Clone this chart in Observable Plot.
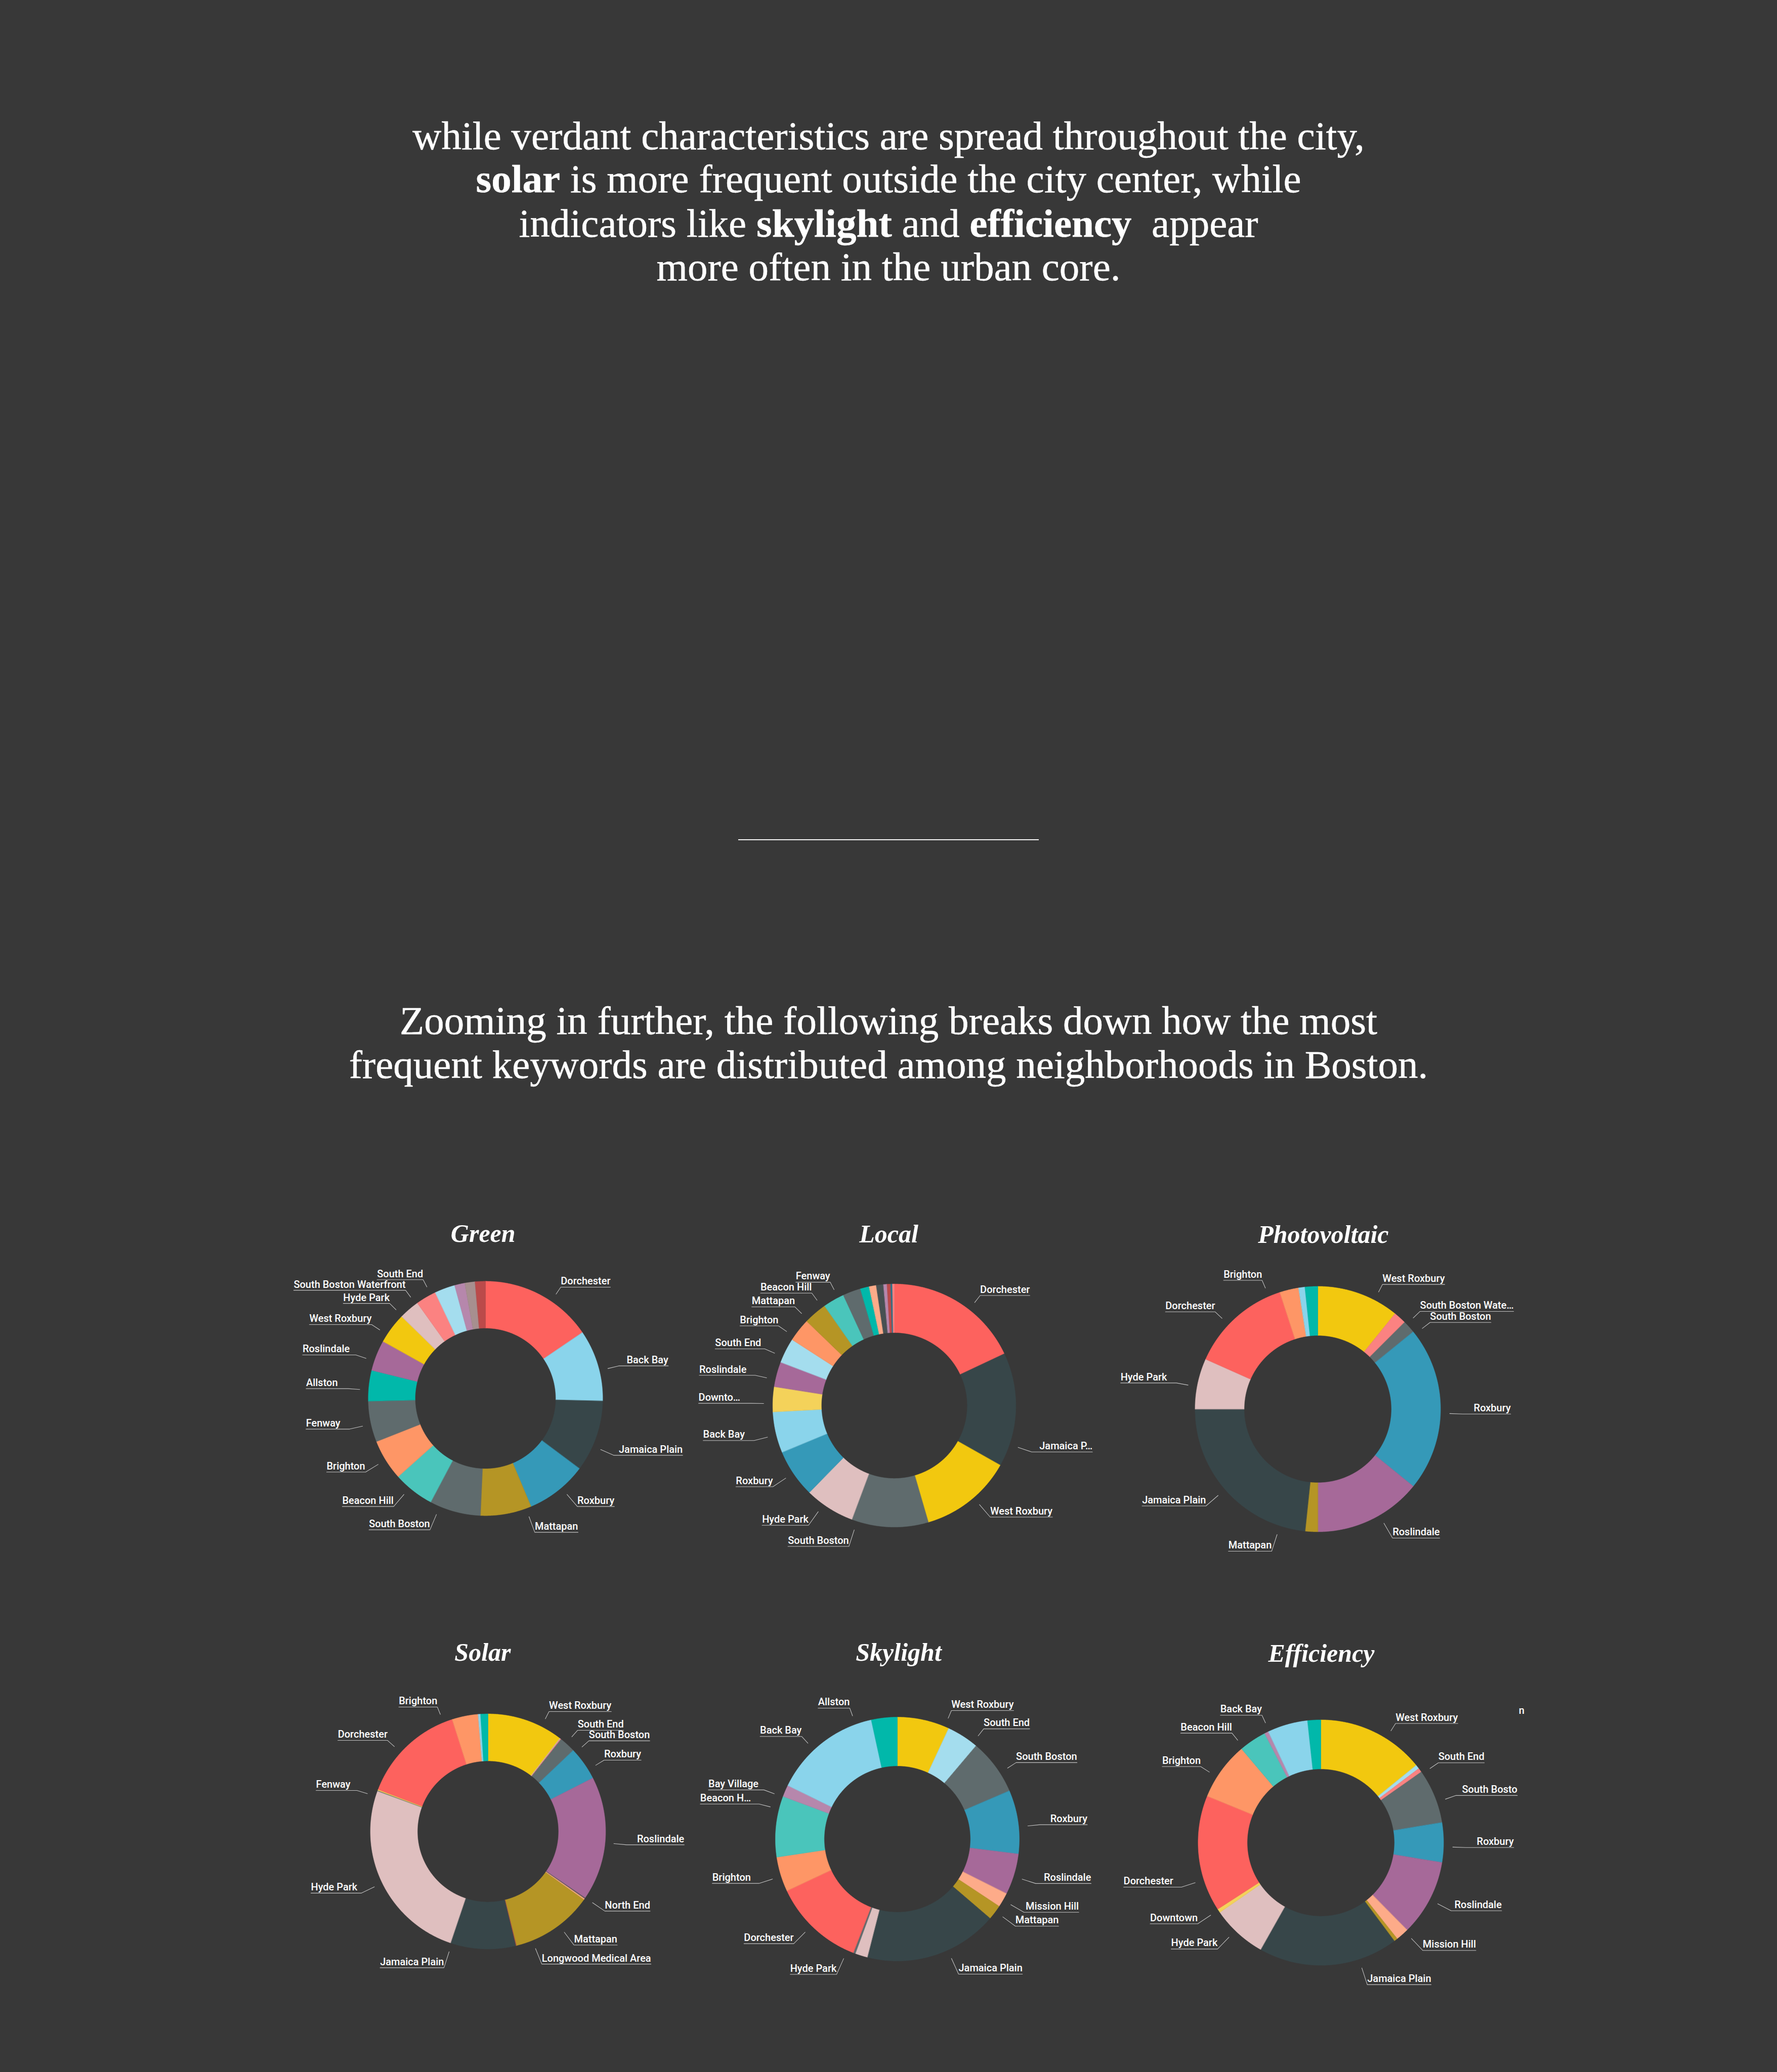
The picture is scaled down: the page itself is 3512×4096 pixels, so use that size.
<!DOCTYPE html>
<html>
<head>
<meta charset="utf-8">
<script src="https://cdn.jsdelivr.net/npm/d3@7"></script>
<script src="https://cdn.jsdelivr.net/npm/@observablehq/plot@0.6"></script>
<style>
html, body { margin:0; padding:0; background:#383838; }
#page { position:relative; width:3512px; height:4096px; overflow:hidden; background:#383838; }
.para { position:absolute; left:0; width:3512px; text-align:center; color:#fff; font-family:"Liberation Serif", serif; font-size:79px; line-height:79px; white-space:pre; -webkit-text-stroke:0.5px #fff; }
.para b { font-weight:700; }
.rule { position:absolute; background:#f2f2f2; }
.ctitle { position:absolute; width:600px; text-align:center; color:#fff; font-family:"Liberation Serif", serif; font-style:italic; font-weight:700; font-size:50px; line-height:50px; white-space:nowrap; }
</style>
</head>
<body>
<div id="page"></div>
<script>
// ---------------- DATA ----------------
// neighborhood colour assignment (consistent across all charts)
const hoods = ["Allston","Jamaica Plain","Dorchester","West Roxbury","South Boston","Back Bay","Brighton","Roslindale","Roxbury","Hyde Park","Beacon Hill","Fenway","South Boston Waterfront","Downtown","South End","Mission Hill","Bay Village","East Boston","Charlestown","Longwood Medical Area","Mattapan","North End"];
const hoodColors = ["#01B8AA","#374649","#FD625E","#F2C80F","#5F6B6D","#8AD4EB","#FE9666","#A66999","#3599B8","#DFBFBF","#4AC5BB","#5F6B6D","#FB8281","#F4D25A","#A4DDEE","#FDAB89","#B687AC","#28738A","#A78F8F","#BB4A4A","#B59525","#475052"];

// Green
const greenNames  = ["Dorchester","Back Bay","Jamaica Plain","Roxbury","Mattapan","South Boston","Beacon Hill","Brighton","Fenway","Allston","Roslindale","West Roxbury","Hyde Park","South Boston Waterfront","South End","Bay Village","Charlestown","Longwood Medical Area"];
const greenCounts = [11,7,7,6,5,5,4,4,4,3,3,3,2,2,2,1,1,1];
const greenLabels = ["Dorchester","Back Bay","Jamaica Plain","Roxbury","Mattapan","South Boston","Beacon Hill","Brighton","Fenway","Allston","Roslindale","West Roxbury","Hyde Park","South Boston Waterfront","South End","","",""];

// Local
const localNames  = ["Dorchester","Jamaica Plain","West Roxbury","South Boston","Hyde Park","Roxbury","Back Bay","Downtown","Roslindale","South End","Brighton","Mattapan","Beacon Hill","Fenway","Allston","Mission Hill","North End","Bay Village","Longwood Medical Area","East Boston","South Boston Waterfront"];
const localCounts = [76,64,52,43,28,27,23,14,14,14,13,13,12,10,5,4,4,2,2,1,1];
const localLabels = ["Dorchester","Jamaica P…","West Roxbury","South Boston","Hyde Park","Roxbury","Back Bay","Downto…","Roslindale","South End","Brighton","Mattapan","Beacon Hill","Fenway","","","","","","",""];

// Photovoltaic
const pvNames  = ["West Roxbury","South Boston Waterfront","South Boston","Roxbury","Roslindale","Mattapan","Jamaica Plain","Hyde Park","Dorchester","Brighton","Back Bay","Allston"];
const pvCounts = [13,2,2,26,17,2,28,8,16,3,1,2];
const pvLabels = ["West Roxbury","South Boston Wate…","South Boston","Roxbury","Roslindale","Mattapan","Jamaica Plain","Hyde Park","Dorchester","Brighton","",""];

// Solar
const solarNames  = ["West Roxbury","South End","South Boston Waterfront","South Boston","Roxbury","Roslindale","North End","Mission Hill","Mattapan","Longwood Medical Area","Jamaica Plain","Hyde Park","Fenway","Downtown","Dorchester","Brighton","Back Bay","Allston"];
const solarShare  = [37.7,0.2,0.5,8.0,16.6,61.4,0.4,0.6,40.6,0.3,32.2,91.5,0.3,0.5,51.3,12.9,1.2,3.6];
const solarLabels = ["West Roxbury","South End","","South Boston","Roxbury","Roslindale","North End","","Mattapan","Longwood Medical Area","Jamaica Plain","Hyde Park","Fenway","","Dorchester","Brighton","",""];

// Skylight
const skylightNames  = ["West Roxbury","South End","South Boston","Roxbury","Roslindale","Mission Hill","Mattapan","Jamaica Plain","Hyde Park","Fenway","Dorchester","Brighton","Beacon Hill","Bay Village","Back Bay","Allston"];
const skylightShare  = [24.9,15.3,26.5,30.4,19.5,6.9,7.1,63.7,5.9,1.0,43.7,16.6,29.0,5.6,51.6,12.3];
const skylightLabels = ["West Roxbury","South End","South Boston","Roxbury","Roslindale","Mission Hill","Mattapan","Jamaica Plain","Hyde Park","","Dorchester","Brighton","Beacon H…","Bay Village","Back Bay","Allston"];

// Efficiency
const effNames  = ["West Roxbury","South End","South Boston Waterfront","South Boston","Roxbury","Roslindale","Mission Hill","Mattapan","Jamaica Plain","Hyde Park","Downtown","Dorchester","Brighton","Beacon Hill","Bay Village","Back Bay","Allston"];
const effShare  = [51.0,1.9,2.0,25.7,18.8,36.0,6.2,1.7,66.1,26.0,1.8,55.1,27.5,13.0,1.9,19.1,6.2];
const effLabels = ["West Roxbury","South End","","South Bosto","Roxbury","Roslindale","Mission Hill","","Jamaica Plain","Hyde Park","Downtown","Dorchester","Brighton","Beacon Hill","","Back Bay",""];

// Text
const introLines = [
  "while verdant characteristics are spread throughout the city,",
  "<b>solar</b> is more frequent outside the city center, while",
  "indicators like <b>skylight</b> and <b>efficiency</b>  appear",
  "more often in the urban core."
];
const zoomLines = [
  "Zooming in further, the following breaks down how the most",
  "frequent keywords are distributed among neighborhoods in Boston."
];

// ---------------- LAYOUT (reference px, scaled by S) ----------------
const S = 0.78;
const introBaselines = [378, 488, 600, 711];
const zoomBaselines = [2621, 2732];
const rule = {x1: 1871, x2: 2632, y: 2128};
const charts = [
  {title:"Green",        names:greenNames,    values:greenCounts,   labels:greenLabels,    cx:1229, cy:3543, R:297, tx:1224, ty:3147},
  {title:"Local",        names:localNames,    values:localCounts,   labels:localLabels,    cx:2265, cy:3561, R:308, tx:2252, ty:3148},
  {title:"Photovoltaic", names:pvNames,       values:pvCounts,      labels:pvLabels,       cx:3339, cy:3571, R:311, tx:3353, ty:3150},
  {title:"Solar",        names:solarNames,    values:solarShare,    labels:solarLabels,    cx:1236, cy:4641, R:298, tx:1223, ty:4209},
  {title:"Skylight",     names:skylightNames, values:skylightShare, labels:skylightLabels, cx:2273, cy:4660, R:309, tx:2277, ty:4209},
  {title:"Efficiency",   names:effNames,      values:effShare,      labels:effLabels,      cx:3346, cy:4669, R:311, tx:3348, ty:4212, overflow:{label:"South Bosto", text:"n"}}
];

const page = document.getElementById("page");
const PARA_SIZE = 79, BASE = 0.8375; // baseline offset (em) for line-height:1 in Liberation Serif

introLines.concat(zoomLines).forEach((t, i) => {
  const b = (i < 4 ? introBaselines[i] : zoomBaselines[i - 4]) * S;
  const d = document.createElement("div");
  d.className = "para";
  d.innerHTML = t;
  d.style.top = (b - BASE * PARA_SIZE) + "px";
  page.appendChild(d);
});
{
  const r = document.createElement("div");
  r.className = "rule";
  r.style.left = rule.x1 * S + "px";
  r.style.width = (rule.x2 - rule.x1) * S + "px";
  r.style.top = (rule.y * S - 0.8) + "px";
  r.style.height = "1.6px";
  page.appendChild(r);
}

// ---------------- DONUTS ----------------
const LABEL_FONT = "Roboto";
const LABEL_SIZE = 20;
const LABEL_WEIGHT = 500;
const ctx = document.createElement("canvas").getContext("2d");
ctx.font = `${LABEL_WEIGHT} ${LABEL_SIZE}px ${LABEL_FONT}`;
const textWidth = s => ctx.measureText(s).width;

function donut(cfg) {
  const R = cfg.R * S, r0 = 0.6 * R;
  const halfW = 450, halfH = 420;
  const L = 500 * S;            // half-width of the visual frame available to labels
  const arcs = d3.pie().sort(null).value(d => d).startAngle(0).endAngle(2 * Math.PI)(cfg.values);

  // slice polygons
  const pts = [];
  arcs.forEach((a, i) => {
    const n = Math.max(2, Math.ceil((a.endAngle - a.startAngle) / (Math.PI / 720)));
    const name = cfg.names[i];
    for (let k = 0; k <= n; k++) {
      const t = a.startAngle + (a.endAngle - a.startAngle) * k / n;
      pts.push({id: i, name, x: R * Math.sin(t), y: -R * Math.cos(t)});
    }
    for (let k = n; k >= 0; k--) {
      const t = a.startAngle + (a.endAngle - a.startAngle) * k / n;
      pts.push({id: i, name, x: r0 * Math.sin(t), y: -r0 * Math.cos(t)});
    }
  });

  // labels
  const items = [];
  arcs.forEach((a, i) => {
    const text = cfg.labels[i];
    if (!text) return;
    const mid = (a.startAngle + a.endAngle) / 2;
    items.push({i, text, mid, side: mid < Math.PI ? 1 : -1, yc: -1.12 * R * Math.cos(mid), w: textWidth(text)});
  });
  const re = 1.18 * R, rt = 1.27 * R, rs = 1.075 * R;
  const xElbow = yc => Math.sqrt(Math.max(re * re - yc * yc, (0.15 * R) ** 2));
  const innerAt = yc => Math.max(xElbow(yc), rt * Math.sqrt(Math.max(0, 1 - (yc / R) ** 2)));
  for (const d of items) {
    const dir = d.yc >= 0 ? 1 : -1;
    let k = 0;
    while (innerAt(d.yc) + d.w > L && k < 60) { d.yc += dir * 0.005 * R; k++; }
  }
  const gap = 0.09 * R;
  for (const s of [1, -1]) {
    const side = items.filter(d => d.side === s).sort((a, b) => a.yc - b.yc);
    for (let it = 0; it < 200; it++) {
      let moved = false;
      for (let k = 1; k < side.length; k++) {
        const dd = side[k].yc - side[k - 1].yc;
        if (dd < gap - 1e-6) { const m = (gap - dd) / 2; side[k].yc += m; side[k - 1].yc -= m; moved = true; }
      }
      if (!moved) break;
    }
  }
  const leaders = [], texts = [];
  for (const d of items) {
    const xe = xElbow(d.yc), inner = innerAt(d.yc);
    const ey = d.yc + 0.04 * R, ex = d.side * xe;
    const len = Math.hypot(ex, ey);
    leaders.push({id: d.i, x: ex / len * rs, y: ey / len * rs});
    leaders.push({id: d.i, x: ex, y: ey});
    leaders.push({id: d.i, x: d.side * (inner + d.w), y: ey});
    texts.push({text: d.text, side: d.side, x: d.side * inner, y: ey - 0.022 * R, outer: d.side * (inner + d.w)});
  }
  const extra = [];
  if (cfg.overflow) {
    const t = texts.find(d => d.text === cfg.overflow.label);
    if (t) extra.push({text: cfg.overflow.text, x: t.outer + 0.012 * R, y: -1.05 * R});
  }

  const textOpts = {x: "x", y: "y", text: "text", lineAnchor: "bottom", fill: "#ffffff", fontSize: LABEL_SIZE, fontFamily: LABEL_FONT, fontWeight: LABEL_WEIGHT};
  const svg = Plot.plot({
    width: 2 * halfW, height: 2 * halfH, margin: 0,
    x: {domain: [-halfW, halfW], axis: null},
    y: {domain: [halfH, -halfH], axis: null},
    color: {domain: hoods, range: hoodColors},
    style: {background: "transparent", overflow: "visible"},
    marks: [
      Plot.line(pts, {x: "x", y: "y", z: "id", fill: "name", stroke: "name", strokeWidth: 0.6, strokeLinejoin: "round", curve: "linear-closed"}),
      Plot.line(leaders, {x: "x", y: "y", z: "id", stroke: "#c2c2c2", strokeWidth: 1.1, strokeLinejoin: "miter"}),
      Plot.text(texts.filter(d => d.side > 0), {...textOpts, textAnchor: "start"}),
      Plot.text(texts.filter(d => d.side < 0), {...textOpts, textAnchor: "end"}),
      Plot.text(extra, {...textOpts, textAnchor: "start"})
    ]
  });
  svg.style.position = "absolute";
  svg.style.left = (cfg.cx * S - halfW) + "px";
  svg.style.top = (cfg.cy * S - halfH) + "px";
  page.appendChild(svg);

  const t = document.createElement("div");
  t.className = "ctitle";
  t.textContent = cfg.title;
  t.style.left = (cfg.tx * S - 300) + "px";
  t.style.top = (cfg.ty * S - BASE * 50) + "px";
  page.appendChild(t);
}
charts.forEach(donut);
</script>
</body>
</html>
